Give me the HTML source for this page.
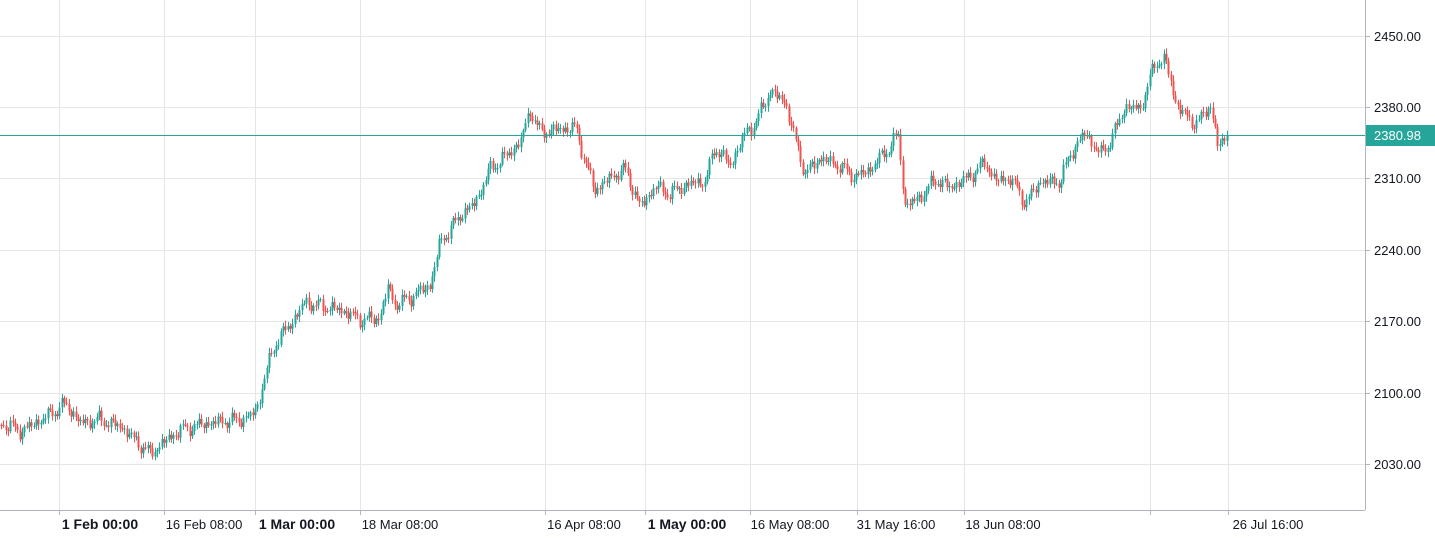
<!DOCTYPE html>
<html><head><meta charset="utf-8"><style>
body{margin:0;background:#fff;width:1435px;height:540px;overflow:hidden}
svg{display:block;font-family:"Liberation Sans",sans-serif}
</style></head><body>
<svg id="c" width="1435" height="540" xmlns="http://www.w3.org/2000/svg">
<g stroke="#e6e6e6" stroke-width="1">
<line x1="0" y1="36.5" x2="1365" y2="36.5"/><line x1="0" y1="107.5" x2="1365" y2="107.5"/><line x1="0" y1="178.5" x2="1365" y2="178.5"/><line x1="0" y1="250.5" x2="1365" y2="250.5"/><line x1="0" y1="321.5" x2="1365" y2="321.5"/><line x1="0" y1="393.5" x2="1365" y2="393.5"/><line x1="0" y1="464.5" x2="1365" y2="464.5"/>
<line x1="59.5" y1="0" x2="59.5" y2="510"/><line x1="164.5" y1="0" x2="164.5" y2="510"/><line x1="255.5" y1="0" x2="255.5" y2="510"/><line x1="360.5" y1="0" x2="360.5" y2="510"/><line x1="545.5" y1="0" x2="545.5" y2="510"/><line x1="645.5" y1="0" x2="645.5" y2="510"/><line x1="750.5" y1="0" x2="750.5" y2="510"/><line x1="857.5" y1="0" x2="857.5" y2="510"/><line x1="964.5" y1="0" x2="964.5" y2="510"/><line x1="1150.5" y1="0" x2="1150.5" y2="510"/><line x1="1228.5" y1="0" x2="1228.5" y2="510"/>
</g>
<polyline id="fb" fill="none" stroke="#26a69a" stroke-width="4" stroke-linejoin="round" points="0,425 20,432 40,418 65,405 80,425 100,418 120,425 138,445 150,455 165,440 180,428 210,425 250,415 258,405 265,375 275,345 290,325 305,300 320,305 340,312 360,320 380,315 388,285 395,305 410,300 430,285 440,240 460,215 475,205 490,170 505,155 520,140 530,110 540,135 560,130 575,125 585,160 595,190 610,180 625,170 640,205 655,185 670,195 690,185 705,180 715,145 730,165 745,135 755,125 770,90 785,100 795,140 805,175 820,160 840,165 855,175 870,170 885,155 898,135 905,205 920,195 935,180 950,190 965,180 985,160 995,180 1010,180 1025,205 1040,180 1060,180 1070,155 1085,135 1100,155 1110,140 1125,105 1140,110 1155,65 1165,60 1175,100 1190,120 1200,120 1210,105 1218,150 1228,135"/>
<g id="cd"></g>
<line x1="0" y1="135.5" x2="1365" y2="135.5" stroke="#26a69a" stroke-width="1"/>
<line x1="1365.5" y1="0" x2="1365.5" y2="510" stroke="#b2b5be"/>
<line x1="0" y1="510.5" x2="1365" y2="510.5" stroke="#b2b5be"/>
<g stroke="#b2b5be"><line x1="1366" y1="36.5" x2="1370" y2="36.5"/><line x1="1366" y1="107.5" x2="1370" y2="107.5"/><line x1="1366" y1="178.5" x2="1370" y2="178.5"/><line x1="1366" y1="250.5" x2="1370" y2="250.5"/><line x1="1366" y1="321.5" x2="1370" y2="321.5"/><line x1="1366" y1="393.5" x2="1370" y2="393.5"/><line x1="1366" y1="464.5" x2="1370" y2="464.5"/>
<line x1="59.5" y1="511" x2="59.5" y2="515"/><line x1="164.5" y1="511" x2="164.5" y2="515"/><line x1="255.5" y1="511" x2="255.5" y2="515"/><line x1="360.5" y1="511" x2="360.5" y2="515"/><line x1="545.5" y1="511" x2="545.5" y2="515"/><line x1="645.5" y1="511" x2="645.5" y2="515"/><line x1="750.5" y1="511" x2="750.5" y2="515"/><line x1="857.5" y1="511" x2="857.5" y2="515"/><line x1="964.5" y1="511" x2="964.5" y2="515"/><line x1="1150.5" y1="511" x2="1150.5" y2="515"/><line x1="1228.5" y1="511" x2="1228.5" y2="515"/></g>
<g font-size="13" fill="#131722">
<text x="1374" y="41">2450.00</text><text x="1374" y="112">2380.00</text><text x="1374" y="183">2310.00</text><text x="1374" y="255">2240.00</text><text x="1374" y="326">2170.00</text><text x="1374" y="398">2100.00</text><text x="1374" y="469">2030.00</text>
</g>
<rect x="1366" y="125" width="69" height="21" fill="#26a69a"/>
<text x="1374" y="140" font-size="13" fill="#fff">2380.98</text>
<g font-size="13" fill="#131722" text-anchor="middle">
<text x="100" y="529" font-weight="bold" font-size="14">1 Feb 00:00</text>
<text x="204" y="529">16 Feb 08:00</text>
<text x="297" y="529" font-weight="bold" font-size="14">1 Mar 00:00</text>
<text x="400" y="529">18 Mar 08:00</text>
<text x="584" y="529">16 Apr 08:00</text>
<text x="687" y="529" font-weight="bold" font-size="14">1 May 00:00</text>
<text x="790" y="529">16 May 08:00</text>
<text x="896" y="529">31 May 16:00</text>
<text x="1003" y="529">18 Jun 08:00</text>
<text x="1268" y="529">26 Jul 16:00</text>
</g>
</svg>
<script>
(function(){
var k=[[0,425],[20,432],[40,418],[65,405],[80,425],[100,418],[120,425],[138,445],[150,455],[165,440],[180,428],[210,425],[250,415],[258,405],[265,375],[275,345],[290,325],[305,300],[320,305],[340,312],[360,320],[380,315],[388,285],[395,305],[410,300],[430,285],[440,240],[460,215],[475,205],[490,170],[505,155],[520,140],[530,110],[540,135],[560,130],[575,125],[585,160],[595,190],[610,180],[625,170],[640,205],[655,185],[670,195],[690,185],[705,180],[715,145],[730,165],[745,135],[755,125],[770,90],[785,100],[795,140],[805,175],[820,160],[840,165],[855,175],[870,170],[885,155],[898,135],[905,205],[920,195],[935,180],[950,190],[965,180],[985,160],[995,180],[1010,180],[1025,205],[1040,180],[1060,180],[1070,155],[1085,135],[1100,155],[1110,140],[1125,105],[1140,110],[1155,65],[1165,60],[1175,100],[1190,120],[1200,120],[1210,105],[1218,150],[1228,135]];
function f(x){for(var i=1;i<k.length;i++){if(x<=k[i][0]){var a=k[i-1],b=k[i];return a[1]+(b[1]-a[1])*(x-a[0])/(b[0]-a[0]);}}return k[k.length-1][1];}
var NS="http://www.w3.org/2000/svg";
var g=document.getElementById("cd");
function el(t,at){var e=document.createElementNS(NS,t);for(var p in at){e.setAttribute(p,at[p]);}g.appendChild(e);}
var prev=f(0),st=2.33;
for(var x=1;x<=1228;x+=st){
var n=Math.sin(x*1.7)*3+Math.sin(x*0.37)*3.5+Math.sin(x*5.3)*2+Math.sin(x*11.3)*3;
var c=f(x)+n,o=prev;
var hi=Math.min(o,c)-1.5-Math.abs(Math.sin(x*3.1))*4,lo=Math.max(o,c)+1.5+Math.abs(Math.cos(x*2.3))*4;
var col=c<=o?"#26a69a":"#ef5350";
var top=Math.min(o,c),h=Math.max(1,Math.abs(c-o)),xx=Math.round(x);
el("line",{x1:xx+0.5,y1:hi.toFixed(1),x2:xx+0.5,y2:lo.toFixed(1),stroke:col});
el("rect",{x:xx-0.5,y:top.toFixed(1),width:2,height:h.toFixed(1),fill:col});
prev=c;}
var fb=document.getElementById("fb");if(fb){fb.parentNode.removeChild(fb);}
})();
</script>
</body></html>
